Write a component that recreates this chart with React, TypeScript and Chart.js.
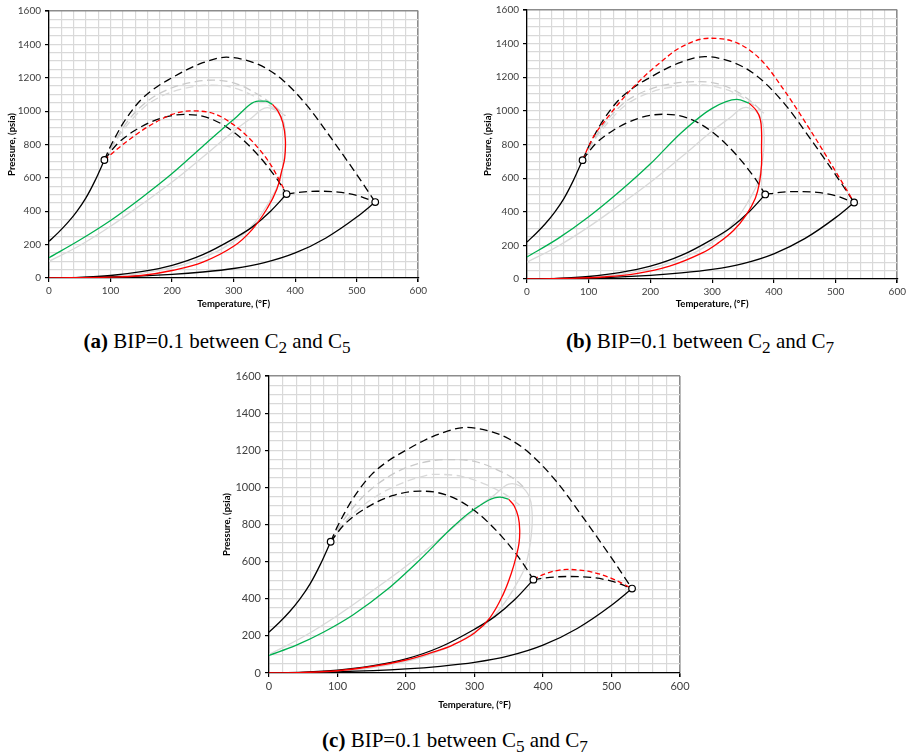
import React, { useEffect, useRef } from 'react';
import { Chart, registerables } from 'chart.js';

Chart.register(...registerables);

type Pt = [number, number];

// Axis ranges and tick spacing
const tempRange: number[] = [0, 600];
const pressRange: number[] = [0, 1600];
const tempLabelStep = 100;
const pressLabelStep = 200;
const tempGridStep = 20;
const pressGridStep = 50;

// Pure-component vapor pressure curves (shared by all panels)
const vaporLight: Pt[] = [[0, 220], [15, 272], [30, 330], [45, 398], [60, 480], [75, 585], [90, 707]];
const vaporMiddle: Pt[] = [[0, 0], [50, 4], [100, 15], [150, 38], [200, 76], [250, 140], [300, 236], [330, 305], [360, 400], [386, 503]];
const vaporHeavy: Pt[] = [[0, 0], [100, 6], [200, 22], [250, 36], [300, 57], [350, 92], [400, 150], [450, 240], [500, 365], [530, 455]];

// Binary critical loci without interaction parameter (shared)
const locusLightHeavy: Pt[] = [[90, 707], [100, 790], [110, 860], [120, 925], [135, 1005], [150, 1070], [175, 1145], [200, 1200], [225, 1250], [250, 1290], [288, 1323], [320, 1305], [350, 1262], [380, 1185], [420, 1030], [460, 830], [500, 620], [530, 455]];
const locusLightMiddle: Pt[] = [[90, 707], [110, 800], [140, 885], [180, 955], [220, 980], [260, 958], [300, 875], [340, 735], [370, 595], [386, 503]];
const locusMiddleHeavy: Pt[] = [[386, 503], [410, 515], [435, 520], [470, 515], [500, 495], [530, 455]];

// Pure-component critical points
const criticalPoints: Pt[] = [[90, 707], [386, 503], [530, 455]];

// Ternary phase envelope without interaction parameter (shared)
const envelopeBase: Pt[] = [[0, 100], [50, 195], [100, 310], [150, 440], [200, 575], [250, 725], [300, 880], [330, 962], [350, 1018], [368, 1005], [380, 950], [384, 870], [384, 790], [381, 690], [374, 573], [362, 484], [347, 394], [332, 322], [318, 269], [298, 215], [274, 161], [235, 100], [200, 62], [150, 28], [100, 10], [50, 2], [0, 0]];

// (a) BIP between C2 and C5
const bubbleA: Pt[] = [[0, 122], [50, 228], [100, 345], [150, 480], [200, 626], [250, 790], [300, 950], [340, 1060], [352, 1060], [363, 1040]];
const dewA: Pt[] = [[0, 0], [100, 5], [150, 15], [200, 45], [250, 95], [300, 190], [330, 290], [355, 420], [370, 530], [378, 640], [383, 720], [384, 830], [380, 930], [372, 1000], [363, 1040]];
const locusBipA: Pt[] = [[90, 707], [120, 800], [160, 905], [200, 980], [230, 1002], [270, 982], [300, 918], [330, 820], [360, 680], [386, 503]];
const ternaryLocusA1: Pt[] = [[90, 707], [110, 840], [130, 950], [160, 1060], [200, 1140], [240, 1178], [266, 1186], [300, 1170], [330, 1120], [360, 1050], [384, 972]];
const ternaryLocusA2: Pt[] = [[90, 707], [110, 830], [130, 930], [160, 1040], [200, 1115], [240, 1150], [266, 1156], [300, 1140], [330, 1095], [360, 1030], [384, 972]];

// (b) BIP between C2 and C7
const bubbleB: Pt[] = [[0, 131], [50, 240], [100, 370], [150, 520], [200, 685], [250, 870], [300, 1015], [340, 1068], [360, 1046]];
const dewB: Pt[] = [[0, 0], [60, 3], [123, 12], [177, 32], [231, 76], [284, 155], [310, 215], [335, 290], [355, 380], [370, 480], [377, 580], [380, 680], [380, 780], [380, 880], [378, 950], [372, 1000], [360, 1046]];
const locusBipB: Pt[] = [[90, 707], [100, 790], [110, 860], [130, 958], [150, 1050], [180, 1170], [210, 1270], [250, 1380], [295, 1432], [340, 1405], [380, 1300], [420, 1105], [460, 880], [500, 640], [530, 455]];
const ternaryLocusB1: Pt[] = [[90, 707], [110, 840], [130, 945], [160, 1055], [200, 1130], [240, 1165], [279, 1174], [310, 1160], [340, 1115], [365, 1050], [384, 986]];
const ternaryLocusB2: Pt[] = [[90, 707], [110, 830], [130, 925], [160, 1035], [200, 1110], [240, 1145], [279, 1154], [310, 1140], [340, 1100], [365, 1040], [384, 986]];

// (c) BIP between C5 and C7
const bubbleC: Pt[] = [[0, 95], [40, 150], [80, 221], [123, 314], [172, 448], [220, 609], [269, 789], [298, 878], [337, 948], [350, 935]];
const dewC: Pt[] = [[0, 0], [50, 3], [100, 12], [150, 35], [200, 70], [235, 107], [269, 152], [300, 215], [323, 300], [342, 425], [354, 540], [361, 630], [365, 700], [366, 770], [364, 840], [358, 900], [350, 935]];
const locusBipC: Pt[] = [[386, 503], [400, 530], [435, 558], [470, 545], [500, 510], [530, 455]];
const ternaryLocusC1: Pt[] = [[90, 707], [110, 830], [140, 960], [180, 1070], [220, 1130], [264, 1150], [300, 1140], [330, 1100], [360, 1040], [376, 986]];
const ternaryLocusC2: Pt[] = [[90, 707], [110, 810], [140, 910], [180, 1000], [220, 1055], [240, 1070], [280, 1060], [320, 1010], [350, 950], [366, 905]];

type Panel = {
  bubble: Pt[];
  dew: Pt[];
  bipLocus: Pt[];
  ternary1: Pt[];
  ternary2: Pt[];
};

const panelA: Panel = { bubble: bubbleA, dew: dewA, bipLocus: locusBipA, ternary1: ternaryLocusA1, ternary2: ternaryLocusA2 };
const panelB: Panel = { bubble: bubbleB, dew: dewB, bipLocus: locusBipB, ternary1: ternaryLocusB1, ternary2: ternaryLocusB2 };
const panelC: Panel = { bubble: bubbleC, dew: dewC, bipLocus: locusBipC, ternary1: ternaryLocusC1, ternary2: ternaryLocusC2 };

const BLACK = '#000000';
const RED = '#ff0000';
const GREEN = '#00b050';
const GRAY1 = '#c9c9c9';
const GRAY2 = '#d9d9d9';
const GRID = '#d9d9d9';
const FRAME = '#8c8c8c';
const LONG_DASH = [8, 4.5];
const SHORT_DASH = [5, 3];

const toXY = (pts: Pt[]) => pts.map(([x, y]) => ({ x, y }));

// Curves that are single-valued in temperature use a monotone spline;
// the looping dew branches use a plain tension spline.
function curve(pts: Pt[], color: string, order: number, dash: number[] = [], monotone = true, width = 1.3) {
  return {
    data: toXY(pts),
    showLine: true,
    borderColor: color,
    borderWidth: width,
    borderDash: dash,
    pointRadius: 0,
    pointHoverRadius: 0,
    tension: 0.4,
    cubicInterpolationMode: monotone ? 'monotone' : 'default',
    fill: false,
    order,
  };
}

type Frame = {
  left: number;
  top: number;
  width: number;
  height: number;
  yAxisWidth: number;
  xAxisHeight: number;
  padTop: number;
  padRight: number;
  tickFont: number;
  xTitlePad: number;
  yTitlePad: number;
};

function PhaseChart({ panel, frame }: { panel: Panel; frame: Frame }) {
  const ref = useRef<HTMLCanvasElement | null>(null);

  useEffect(() => {
    if (!ref.current) return;
    const datasets: any[] = [
      {
        data: toXY(criticalPoints),
        showLine: false,
        pointRadius: 3.3,
        pointHoverRadius: 3.3,
        pointBackgroundColor: '#ffffff',
        pointBorderColor: BLACK,
        pointBorderWidth: 1.2,
        order: 0,
      },
      curve(panel.dew, RED, 1, [], false),
      curve(panel.bubble, GREEN, 2),
      curve(panel.bipLocus, RED, 3, SHORT_DASH),
      curve(vaporLight, BLACK, 4),
      curve(vaporMiddle, BLACK, 4),
      curve(vaporHeavy, BLACK, 4),
      curve(locusLightHeavy, BLACK, 5, LONG_DASH),
      curve(locusLightMiddle, BLACK, 5, LONG_DASH),
      curve(locusMiddleHeavy, BLACK, 5, LONG_DASH),
      curve(envelopeBase, GRAY2, 6, [], false),
      curve(panel.ternary1, GRAY1, 7, LONG_DASH),
      curve(panel.ternary2, GRAY2, 7, LONG_DASH),
    ];

    const tickFont = { family: 'Lato', size: frame.tickFont };
    const titleFont = { family: 'Lato', size: 9.5, weight: 'bold' as const };

    const chart = new Chart(ref.current, {
      type: 'scatter',
      data: { datasets },
      options: {
        animation: false,
        responsive: false,
        devicePixelRatio: 1,
        events: [],
        layout: { padding: { top: frame.padTop, right: frame.padRight, left: 0, bottom: 0 } },
        plugins: { legend: { display: false }, tooltip: { enabled: false } },
        scales: {
          x: {
            type: 'linear',
            min: tempRange[0],
            max: tempRange[1],
            afterFit: (s: any) => { s.height = frame.xAxisHeight; },
            ticks: {
              stepSize: tempGridStep,
              autoSkip: false,
              maxRotation: 0,
              padding: 3,
              color: '#404040',
              font: tickFont,
              callback: (v: any) => (Number(v) % tempLabelStep === 0 ? String(v) : ''),
            },
            grid: {
              color: (c: any) => (c.tick && c.tick.value === tempRange[1] ? FRAME : GRID),
              lineWidth: (c: any) => (c.tick && c.tick.value === tempRange[1] ? 1.6 : 1.2),
              tickLength: 4,
              tickColor: (c: any) => (c.tick && c.tick.value % tempLabelStep === 0 ? BLACK : 'rgba(0,0,0,0)'),
            },
            border: { color: BLACK, width: 1.3 },
            title: {
              display: true,
              text: 'Temperature, (°F)',
              font: titleFont,
              color: '#000',
              padding: { top: 0, bottom: frame.xTitlePad },
            },
          },
          y: {
            type: 'linear',
            min: pressRange[0],
            max: pressRange[1],
            afterFit: (s: any) => { s.width = frame.yAxisWidth; },
            ticks: {
              stepSize: pressGridStep,
              autoSkip: false,
              padding: 4,
              color: '#404040',
              font: tickFont,
              callback: (v: any) => (Number(v) % pressLabelStep === 0 ? String(v) : ''),
            },
            grid: {
              color: (c: any) => (c.tick && c.tick.value === pressRange[1] ? FRAME : GRID),
              lineWidth: (c: any) => (c.tick && c.tick.value === pressRange[1] ? 1.6 : 1.2),
              tickLength: 4,
              tickColor: (c: any) => (c.tick && c.tick.value % pressLabelStep === 0 ? BLACK : 'rgba(0,0,0,0)'),
            },
            border: { color: BLACK, width: 1.3 },
            title: {
              display: true,
              text: 'Pressure, (psia)',
              font: titleFont,
              color: '#000',
              padding: { top: frame.yTitlePad, bottom: 0 },
            },
          },
        },
      },
    });
    return () => chart.destroy();
  }, [panel, frame]);

  return (
    <canvas
      ref={ref}
      width={frame.width}
      height={frame.height}
      style={{ position: 'absolute', left: frame.left, top: frame.top, width: frame.width, height: frame.height }}
    />
  );
}

const frameA: Frame = { left: 0, top: 0, width: 430, height: 316, yAxisWidth: 49, xAxisHeight: 38, padTop: 11, padRight: 11, tickFont: 10, xTitlePad: 6, yTitlePad: 6 };
const frameB: Frame = { left: 470, top: 0, width: 439, height: 316, yAxisWidth: 57, xAxisHeight: 37, padTop: 10, padRight: 10, tickFont: 10, xTitlePad: 6, yTitlePad: 12 };
const frameC: Frame = { left: 220, top: 360, width: 480, height: 358, yAxisWidth: 49, xAxisHeight: 45, padTop: 16, padRight: 20, tickFont: 11, xTitlePad: 7, yTitlePad: 1 };

function Caption({ tag, a, b, x, y }: { tag: string; a: string; b: string; x: number; y: number }) {
  const sub = { fontSize: '0.82em', verticalAlign: '-0.3em', lineHeight: 0 } as const;
  return (
    <div
      style={{
        position: 'absolute',
        left: x,
        top: y,
        transform: 'translate(-50%, -50%)',
        whiteSpace: 'nowrap',
        fontFamily: '"Liberation Serif", "Times New Roman", serif',
        fontSize: 21,
        color: '#000',
      }}
    >
      <b>({tag})</b> BIP=0.1 between C<span style={sub}>{a}</span> and C<span style={sub}>{b}</span>
    </div>
  );
}

export default function App() {
  return (
    <div style={{ position: 'absolute', left: 0, top: 0, width: 909, height: 753, background: '#ffffff', overflow: 'hidden' }}>
      <PhaseChart panel={panelA} frame={frameA} />
      <PhaseChart panel={panelB} frame={frameB} />
      <PhaseChart panel={panelC} frame={frameC} />
      <Caption tag="a" a="2" b="5" x={217} y={341} />
      <Caption tag="b" a="2" b="7" x={700} y={341} />
      <Caption tag="c" a="5" b="7" x={455} y={740} />
    </div>
  );
}
